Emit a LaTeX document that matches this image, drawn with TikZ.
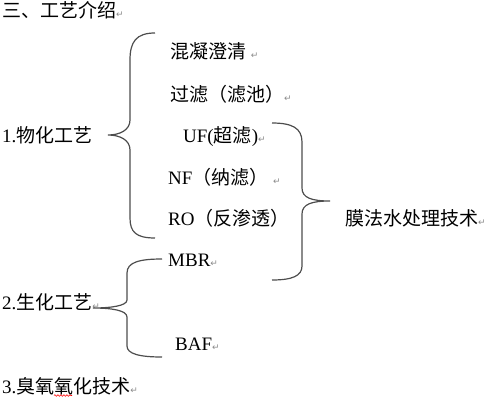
\documentclass[tikz,border=0pt]{standalone}
\usepackage{fontspec}
\setmainfont{Liberation Serif}
\newfontfamily\cjk{Noto Sans CJK SC}
\newfontfamily\symf{DejaVu Sans}
\usetikzlibrary{decorations.pathmorphing}
\definecolor{bracegray}{HTML}{4D4D4D}
\definecolor{markgray}{HTML}{8A8A8A}
\newcommand\retmark{{\symf\fontsize{9}{9}\selectfont\color{markgray}↵}}
\begin{document}
\begin{tikzpicture}[x=1pt,y=-1pt,
  txt/.style={anchor=base west,inner sep=0pt,font=\fontsize{19}{19}\selectfont},
  bracepath/.style={draw=bracegray,line width=1.2pt}]
\useasboundingbox (0,0) rectangle (502,404);

\node[txt] (title) at (2,18) {{\cjk 三、工艺介绍}\retmark};
\node[txt] (hn) at (170,59) {{\cjk 混凝澄清} \retmark};
\node[txt] (gl) at (170,101) {{\cjk 过滤（滤池）}\retmark};
\node[txt] (g1) at (2,142) {1.{\cjk 物化工艺}};
\node[txt] (uf) at (183,142) {UF({\cjk 超滤})\retmark};
\node[txt] (nf) at (168,184) {NF{\cjk （纳滤）} \retmark};
\node[txt] (ro) at (168,225) {RO{\cjk （反渗透）}};
\node[txt] (mf) at (345,225) {{\cjk 膜法水处理技术}\retmark};
\node[txt] (mbr) at (168,266) {MBR\retmark};
\node[txt] (g2) at (2,309) {2.{\cjk 生化工艺}\retmark};
\node[txt] (baf) at (175,350) {BAF\retmark};
\node[txt] (g3) at (2,393) {3.{\cjk 臭氧氧化技术}\retmark};

% brace 1 (physico-chemical)
\coordinate (b1t) at (155,33);
\coordinate (b1m) at (108,135);
\coordinate (b1b) at (155,238);
\draw[bracepath] (b1t) .. controls (136,33) and (130,42) .. (130,60)
  -- (130,120) .. controls (130,130) and (120,135) .. (b1m)
  .. controls (120,135) and (130,140) .. (130,150)
  -- (130,218) .. controls (130,232) and (136,238) .. (b1b);

% brace 2 (membrane)
\coordinate (b2t) at (272,123);
\coordinate (b2m) at (330,201);
\coordinate (b2b) at (272,280);
\draw[bracepath] (b2t) .. controls (292,123) and (302,128) .. (302,142)
  -- (302,188) .. controls (302,198) and (312,201) .. (b2m)
  .. controls (312,201) and (302,204) .. (302,214)
  -- (302,266) .. controls (302,276) and (292,280) .. (b2b);

% brace 3 (biological)
\coordinate (b3t) at (162,259);
\coordinate (b3m) at (93,308);
\coordinate (b3b) at (162,357);
\draw[bracepath] (b3t) .. controls (140,259) and (127,262) .. (127,273)
  -- (127,300) .. controls (127,306) and (110,308) .. (b3m)
  .. controls (110,308) and (127,310) .. (127,317)
  -- (127,346) .. controls (127,354) and (140,357) .. (b3b);

% spell-check squiggle
\coordinate (sqa) at (54,395.5);
\coordinate (sqb) at (72,395.5);
\draw[red,line width=0.6pt,decorate,decoration={snake,amplitude=0.8pt,segment length=3pt}] (sqa) -- (sqb);
\end{tikzpicture}
\end{document}
